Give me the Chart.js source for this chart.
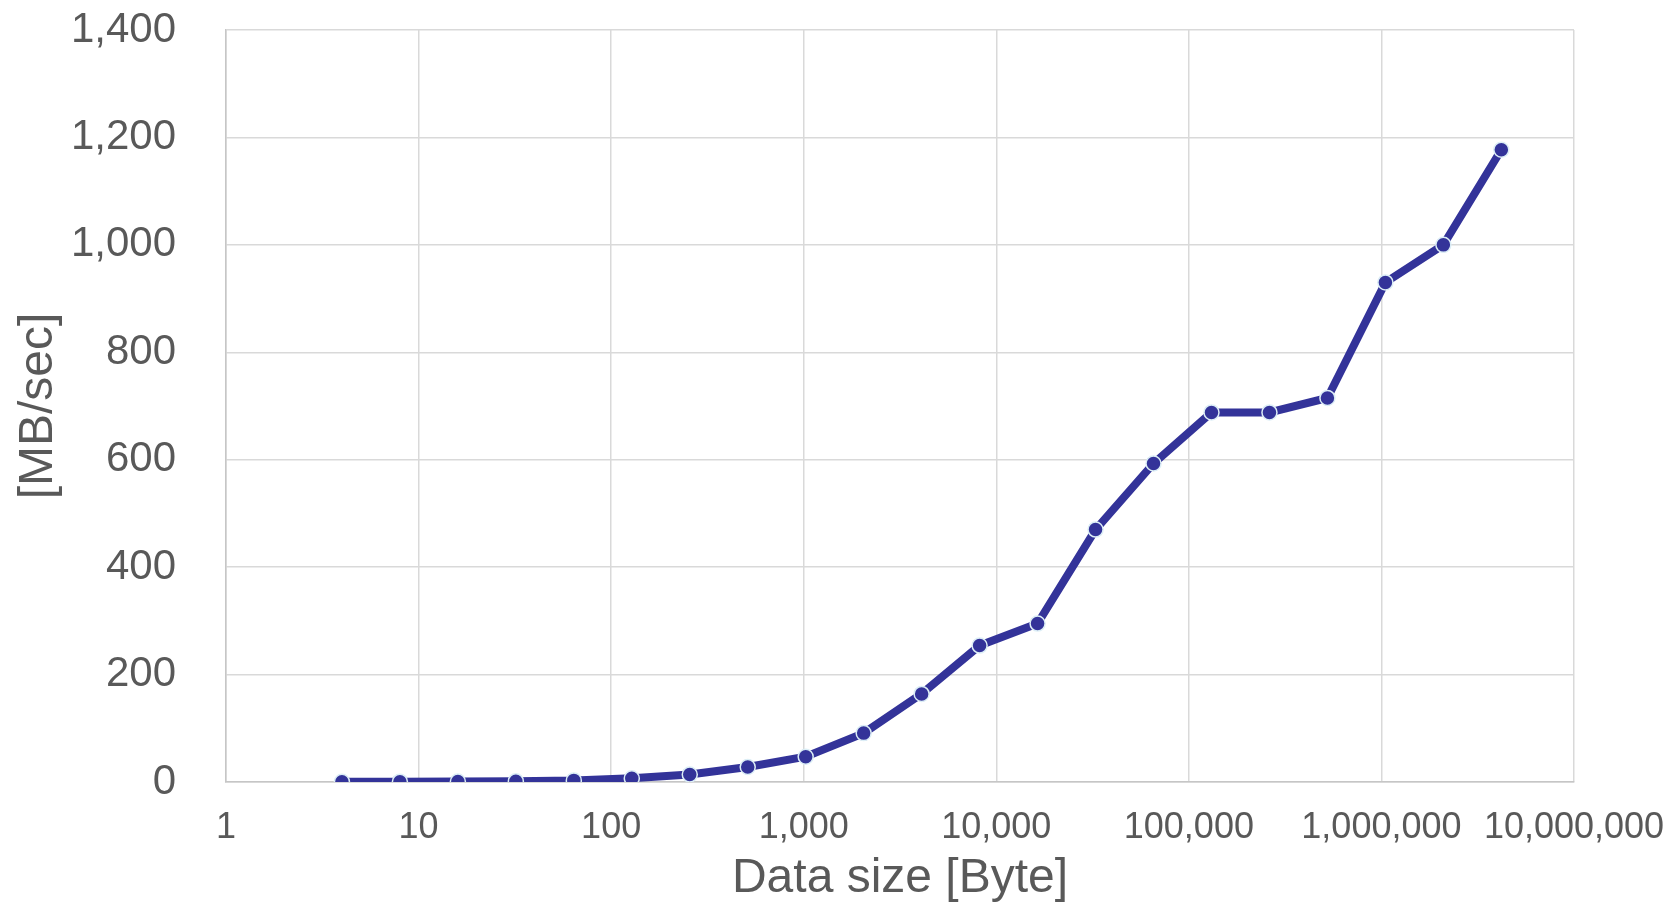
<!DOCTYPE html>
<html>
<head>
<meta charset="utf-8">
<script src="https://cdn.jsdelivr.net/npm/chart.js@4/dist/chart.umd.min.js"></script>
<style>
  html, body { margin: 0; padding: 0; background: #fff; }
  #wrap { width: 1665px; height: 908px; }
</style>
</head>
<body>
<div id="wrap"><canvas id="throughput"></canvas></div>
<script>
// data size in bytes (2^2 .. 2^22) and measured throughput
let sizes = [4, 8, 16, 32, 64, 128, 256, 512, 1024, 2048, 4096, 8192, 16384, 32768,
             65536, 131072, 262144, 524288, 1048576, 2097152, 4194304];
let mbPerSec = [0.3, 0.6, 1, 1.5, 3, 7, 14, 28, 47, 91, 164, 254, 295, 470,
                593, 688, 688, 715, 930, 1000, 1177];

let xTicks = [1, 10, 100, 1000, 10000, 100000, 1000000, 10000000];
let yTicks = [0, 200, 400, 600, 800, 1000, 1200, 1400];

let points = [];
for (let i = 0; i < sizes.length; i++) {
  points.push({ x: sizes[i], y: mbPerSec[i] });
}

const textColor = '#595959';
const fontName = '"Liberation Sans", Arial, sans-serif';

// no extra room for labels sticking out past the plot
function noOverhang(scale) {
  scale.paddingTop = 0;
  scale.paddingBottom = 0;
  scale.paddingLeft = 0;
  scale.paddingRight = 0;
}

const ctx = document.getElementById('throughput');

new Chart(ctx, {
  type: 'line',
  data: {
    datasets: [{
      label: 'Throughput',
      data: points,
      borderColor: '#333399',
      borderWidth: 8,
      pointRadius: 7.5,
      pointBackgroundColor: '#333399',
      pointBorderColor: '#dceef6',
      pointBorderWidth: 1.5,
      tension: 0
    }]
  },
  options: {
    responsive: true,
    maintainAspectRatio: false,
    animation: false,
    layout: { padding: { top: 30, right: 91, left: 0, bottom: 0 } },
    plugins: {
      legend: { display: false },
      tooltip: { enabled: false }
    },
    scales: {
      x: {
        type: 'logarithmic',
        min: 1,
        max: 10000000,
        afterBuildTicks: (scale) => {
          scale.ticks = xTicks.map(v => ({ value: v }));
        },
        afterFit: (scale) => { scale.height = 126; noOverhang(scale); },
        grid: { color: '#d9d9d9', lineWidth: 1.5, drawTicks: false },
        border: { color: '#c6c6c6', width: 1.5 },
        ticks: {
          color: textColor,
          font: { family: fontName, size: 36 },
          padding: 24,
          maxRotation: 0,
          autoSkip: false,
          callback: (v) => Number(v).toLocaleString('en-US')
        },
        title: {
          display: true,
          text: 'Data size [Byte]',
          color: textColor,
          font: { family: fontName, size: 48 },
          padding: { top: 0, bottom: 0 }
        }
      },
      y: {
        min: 0,
        max: 1400,
        afterBuildTicks: (scale) => {
          scale.ticks = yTicks.map(v => ({ value: v }));
        },
        afterFit: (scale) => { scale.width = 226; noOverhang(scale); },
        grid: { color: '#d9d9d9', lineWidth: 1.5, drawTicks: false },
        border: { color: '#c6c6c6', width: 1.5 },
        ticks: {
          color: textColor,
          font: { family: fontName, size: 42 },
          padding: 50,
          callback: (v) => Number(v).toLocaleString('en-US')
        },
        title: {
          display: true,
          text: '[MB/sec]',
          color: textColor,
          font: { family: fontName, size: 48 },
          padding: { top: 10, bottom: 0 }
        }
      }
    }
  }
});
</script>
</body>
</html>
